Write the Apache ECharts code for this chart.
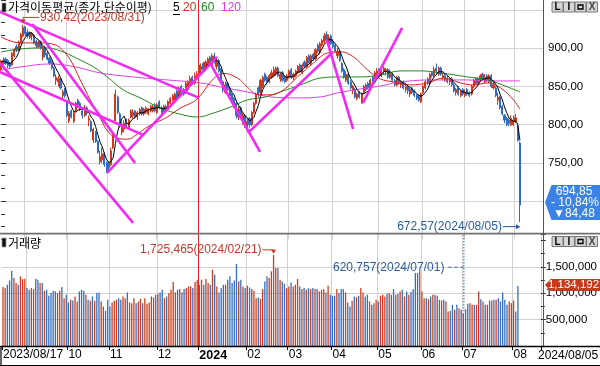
<!DOCTYPE html>
<html><head><meta charset="utf-8">
<script src="https://cdn.jsdelivr.net/npm/echarts@6/dist/echarts.min.js"></script>
<style>html,body{margin:0;padding:0;background:#fff}#c{width:600px;height:366px}</style>
</head><body><div id="c"></div>
<script>
// ---------- trading days (categories) ----------
const monthDays = [
 ['2023/08',[17,18,21,22,23,24,25,28,29,30,31]],
 ['2023/09',[1,4,5,6,7,8,11,12,13,14,15,18,19,20,21,22,25,26,27]],
 ['2023/10',[4,5,6,10,11,12,13,16,17,18,19,20,23,24,25,26,27,30,31]],
 ['2023/11',[1,2,3,6,7,8,9,10,13,14,15,16,17,20,21,22,23,24,27,28,29,30]],
 ['2023/12',[1,4,5,6,7,8,11,12,13,14,15,18,19,20,21,22,26,27,28]],
 ['2024/01',[2,3,4,5,8,9,10,11,12,15,16,17,18,19,22,23,24,25,26,29,30,31]],
 ['2024/02',[1,2,5,6,7,8,13,14,15,16,19,20,21,22,23,26,27,28,29]],
 ['2024/03',[4,5,6,7,8,11,12,13,14,15,18,19,20,21,22,25,26,27,28,29]],
 ['2024/04',[1,2,3,4,5,8,9,11,12,15,16,17,18,19,22,23,24,25,26,29,30]],
 ['2024/05',[2,3,7,8,9,10,13,14,16,17,20,21,22,23,24,27,28,29,30,31]],
 ['2024/06',[3,4,5,7,10,11,12,13,14,17,18,19,20,21,24,25,26,27,28]],
 ['2024/07',[1,2,3,4,5,8,9,10,11,12,15,16,17,18,19,22,23,24,25,26,29,30,31]],
 ['2024/08',[1,2,5]]
];
const monthLabels = ['2023/08/17','','10','11','12','2024','02','03','04','05','06','07','08'];
const padCount = 10;

// ---------- daily OHLC ----------
const opens = [
 872,879,886,884,880,878,890,902,897,908,916,
 928,921,914,916,917,909,902,909,888,901,893,887,881,874,858,856,860,838,846,
 830,805,818,804,818,832,828,818,812,822,806,804,780,790,778,752,754,762,750,
 750,748,770,805,836,814,790,794,806,796,810,812,818,810,814,822,814,816,814,818,818,826,
 816,830,822,816,824,820,828,832,834,844,836,850,846,842,846,852,862,854,860,
 864,872,880,872,880,888,878,890,876,884,872,856,842,854,848,840,834,828,810,822,806,812,
 796,808,800,816,828,848,842,850,866,862,856,862,864,866,874,860,868,862,858,
 862,872,862,864,868,878,868,882,876,890,880,892,886,904,894,904,908,918,906,916,
 908,904,890,896,880,872,858,866,856,844,846,834,842,828,842,852,854,846,862,858,866,
 872,864,870,870,872,862,866,858,852,862,852,856,846,850,840,848,844,838,838,830,
 842,848,860,854,868,864,874,866,874,862,864,856,856,860,852,842,848,838,846,
 838,846,842,840,850,860,854,858,866,856,864,856,864,848,848,832,836,824,812,808,806,800,800,
 804,798,776
];
const highs = [
 885,888,888,886,882,895,900,905,910,920,930.42,
 929,925,922,921,918,911,910,910,903,903,895,889,884,876,866,864,862,846,848,
 832,818,820,818,830,834,830,820,826,824,812,806,796,792,780,766,770,764,752,
 752,770,788,846,838,816,804,806,808,808,820,820,819,818,822,824,822,824,822,826,826,828,
 828,832,824,826,826,832,836,840,842,846,850,852,848,856,858,864,864,868,870,
 882,880,882,884,888,890,893,894,886,886,874,858,856,856,850,842,836,830,824,824,816,814,
 808,810,818,830,842,850,860,864,868,864,866,872,876,876,876,868,870,864,866,
 872,874,868,872,878,880,880,884,890,892,892,894,900,906,908,912,920,922,918,918,
 912,906,900,898,882,874,870,868,858,852,848,842,844,842,852,854,856,860,864,870,874,
 874,872,876,874,874,872,868,860,864,864,858,858,852,852,848,850,846,840,840,842,
 852,858,862,868,870,876,880,876,876,868,866,864,862,862,854,848,850,846,848,
 846,848,844,852,860,862,862,866,868,866,866,866,866,856,850,842,838,826,814,810,808,812,812,
 814,800,778
];
const lows = [
 870,876,878,874,873,877,888,895,896,906,914,
 916,913,912,910,905,900,899,898,884,888,884,878,872,862,852,850,846,834,835,
 810,802,808,802,816,822,818,808,810,812,798,790,776,776,762,748,750,745,737,
 738,746,768,805,814,796,786,790,795,794,808,808,808,806,812,812,812,814,812,816,816,816,
 814,820,814,814,816,818,826,830,832,834,834,840,838,840,844,850,852,852,858,
 862,866,870,870,878,878,876,880,872,868,856,842,840,844,836,828,822,808,806,808,800,796,
 791,796,798,814,826,836,840,848,856,852,854,860,862,864,862,856,856,854,856,
 860,860,858,862,866,868,866,874,874,880,878,884,884,894,892,902,906,908,904,904,
 900,894,886,882,868,860,856,852,846,840,834,832,834,828,840,844,846,844,852,856,864,
 862,862,866,864,860,860,856,850,850,852,848,846,842,840,836,840,836,832,830,828,
 840,846,852,852,862,862,866,864,864,858,856,854,852,850,842,838,838,836,838,
 836,838,836,838,848,852,852,856,858,854,856,854,848,846,836,826,820,812,802,798,798,798,798,
 802,778,672.57
];
const closes = [
 882,884,880,877,876,893,898,897,908,918,927,
 919,916,920,918,907,903,908,900,900,891,886,880,874,864,862,860,848,843,838,
 812,815,810,816,828,826,820,812,822,815,808,792,794,778,764,758,762,748,740,
 744,766,786,840,816,798,800,802,797,806,818,816,810,816,820,814,820,822,820,824,823,818,
 826,822,816,824,818,830,834,838,840,836,848,842,840,854,856,860,854,864,866,
 878,876,872,882,886,880,890,882,884,870,858,845,852,846,838,832,826,812,820,810,812,800,
 804,800,816,828,840,840,858,862,858,856,864,868,872,874,864,866,858,856,864,
 870,862,866,870,876,870,878,876,888,882,890,886,898,896,906,910,916,910,914,906,
 902,896,896,884,870,862,866,854,848,850,836,840,836,840,850,846,848,858,856,868,870,
 864,870,874,872,862,868,858,852,862,854,856,848,850,844,846,842,838,834,832,840,
 850,856,854,866,864,872,870,874,866,864,858,860,860,852,844,846,840,844,840,
 842,840,838,850,858,854,860,864,860,862,858,864,850,852,838,836,822,814,806,800,802,808,806,
 809,779.33,694.85
];
// volume in thousands of shares
const volumesK = [
 1115,1096,1160,1242,1426,1287,1191,1160,1318,1267,1275,
 1096,1065,1096,1077,1275,1255,1191,1191,1046,1065,951,1001,1046,1033,1001,1046,1115,906,970,
 824,875,862,938,843,1033,1065,1046,970,875,856,938,856,1001,1014,843,748,665,875,
 748,824,856,875,906,875,938,906,1014,824,811,906,811,843,894,811,906,798,824,938,919,970,
 989,1014,1065,906,938,1001,1065,1210,1014,1065,1077,1014,1077,1096,1128,1128,1096,1210,1255,
 1160,1255,1160,1267,1191,1160,1445,1350,1128,1014,1096,1160,1160,1255,1318,1191,1242,1553,1223,1255,1128,1096,
 1141,1109,1077,1046,906,919,894,1077,1223,1318,1287,1413,1725.465,1477,1477,1255,1223,1179,1096,
 1128,1204,1128,1160,1267,1128,1077,1096,1065,1096,1077,1096,1077,1077,1033,1065,1077,1014,1141,970,
 951,951,1077,1001,1077,1077,1014,824,748,856,938,925,951,1096,1014,938,970,843,779,811,875,
 843,951,970,938,989,1001,970,1077,970,982,1033,1065,938,1033,970,1020,1077,1382,1382,1413,
 1033,906,906,887,938,970,970,951,875,862,875,843,653,665,779,684,779,716,684,
 620.757,697,798,811,779,779,779,1033,887,843,779,779,862,862,875,875,906,843,1014,875,779,843,811,
 862,653,1134.192
];

// ---------- moving averages: [dayIndex, value] ----------
const ma20Pts = [[0,914.6],[8.7,906.9],[17.8,906.9],[24.7,904.3],[27.8,897.8],[31.5,884.7],[36,858.5],[40.6,832.3],[45.1,808.7],[48.8,790.3],[52.9,782.5],[57.4,781],[62,787.7],[66.5,796.9],[71,803.4],[75.6,810],[81.6,821.8],[87.5,830],[90.6,838],[96.6,860],[101.1,867],[107.5,861],[112,849.3],[116.6,839.5],[122.5,839],[128.4,845.4],[134.8,862.4],[142.1,880.7],[148.5,893.8],[154.4,895.2],[160.3,888.6],[166.7,871.6],[172.6,859.8],[178.5,855.9],[186.3,852],[194,854.6],[201.3,861],[209,854.6],[215,852],[221.3,854.6],[227.2,848],[233.1,832.3],[236,820]];
const ma60Pts = [[0,895],[8.7,899],[20,900.4],[27,896.5],[34,887.3],[42,875.5],[48.3,862.4],[55.6,845.4],[63.3,835],[72.4,821.8],[81.6,813.6],[89.3,810],[96.6,815.2],[104.3,823.1],[112,832.3],[120.2,836.3],[127,842.8],[136.2,852],[145.3,861],[154.4,862.4],[163.5,862.4],[172.6,865],[181.7,870.3],[190.8,870.3],[199.9,867.7],[212.2,862.4],[221.3,858.5],[230.4,849.3],[236,842.8]];
const ma120Pts = [[0,871.3],[9,875.5],[22.4,879.4],[33.8,875.5],[45,867.7],[60,862.4],[75.6,858.5],[90.6,854.6],[99.8,849.3],[112,842.8],[122.5,836.3],[134.8,835],[145.3,836.3],[153,841.5],[163.5,846.7],[172.6,850.6],[181.7,855.9],[196.7,858.5],[212.2,858.5],[221.3,857.2],[236,857.2]];

// ---------- drawn trend lines: [[dayIndex, price], [dayIndex, price]] ----------
const trendLines = [
 [[-0.5,947.4],[90.0,835.0]],
 [[14.1,931.7],[60.9,750.0]],
 [[-0.5,880.7],[60.0,671.6]],
 [[-0.5,868.9],[64.5,786.6]],
 [[48.2,736.9],[98.2,888.6]],
 [[95.0,880.7],[117.8,764.4]],
 [[112.3,789.2],[151.0,895.1]],
 [[148.2,910.8],[160.1,794.4]],
 [[164.6,828.4],[182.4,926.5]]
];

// ---------- build ----------
const dates = [], monthStarts = [];
monthDays.forEach(([ym, days]) => { monthStarts.push(dates.length); days.forEach(d => dates.push(ym + '/' + String(d).padStart(2,'0'))); });
const N = dates.length;
const cats = dates.concat(Array.from({length: padCount}, (_, k) => ' '.repeat(k + 1)));
const labelAt = {}; monthStarts.forEach((s, k) => { labelAt[s] = monthLabels[k]; });
const gridIdx = monthStarts.filter(i => i > 0);
const yearIdx = monthStarts[monthLabels.indexOf('2024')];

const UP = '#d0391c', DOWN = '#2e6dc2';
const GRIDC = '#d2d2d2';
const vColors = gridIdx.map(i => i === yearIdx ? '#e0261a' : GRIDC);

const candles = opens.map((o, i) => [o, closes[i], lows[i], highs[i]]);
const ma5 = closes.map((c, i) => { const s = closes.slice(Math.max(0, i - 4), i + 1); return [i, s.reduce((a, b) => a + b, 0) / s.length]; });
const volData = volumesK.map((v, i) => ({ value: v * 1000, itemStyle: { color: closes[i] >= opens[i] ? '#c9411e' : '#3470bf' } }));

const fmtP = v => v.toFixed(2).replace('.', ',');
const fmtV = v => String(Math.round(v)).replace(/\B(?=(\d{3})+(?!\d))/g, ',');
const FONT = '"Liberation Sans", "DejaVu Sans", sans-serif';

const lineSeries = (data, color, smooth, z, width) => ({
  type: 'line', xAxisIndex: 2, yAxisIndex: 0, data, showSymbol: false, symbol: 'none',
  smooth, lineStyle: { color, width: width || 1 }, z, silent: true
});

const option = {
  animation: false,
  backgroundColor: '#ffffff',
  grid: [
    { left: 0, top: 0, width: 543, height: 239.4 },
    { left: 0, top: 234, width: 543, height: 112 }
  ],
  xAxis: [
    { type: 'category', gridIndex: 0, data: cats, boundaryGap: true,
      axisLine: { show: false }, axisTick: { show: false }, axisLabel: { show: false },
      splitLine: { show: true, interval: (i) => gridIdx.includes(i), lineStyle: { color: vColors, width: 1 } } },
    { type: 'category', gridIndex: 1, data: cats, boundaryGap: true, position: 'bottom',
      axisLine: { show: false },
      axisTick: { show: true, interval: (i) => monthStarts.includes(i), length: 4, lineStyle: { color: '#000' } },
      axisLabel: { show: true, interval: (i) => !!labelAt[i], align: 'left', margin: 3,
        color: '#000', fontSize: 12, fontFamily: FONT,
        formatter: (v, i) => { const t = labelAt[i] || ''; return t === '2024' ? '{b|2024}' : t; },
        rich: { b: { fontWeight: 'bold', fontSize: 12.5, fontFamily: FONT, color: '#000' } } },
      splitLine: { show: true, interval: (i) => gridIdx.includes(i), lineStyle: { color: vColors, width: 1 } } },
    { type: 'value', gridIndex: 0, min: -0.5, max: cats.length - 0.5, show: false }
  ],
  yAxis: [
    { type: 'value', gridIndex: 0, position: 'right', min: 650, max: 963, interval: 50,
      axisLine: { show: false },
      axisTick: { show: true, length: 5, lineStyle: { color: '#333' } },
      minorTick: { show: true, splitNumber: 3, length: 4, lineStyle: { color: '#333' } },
      axisLabel: { margin: 5, color: '#000', fontSize: 11.5, fontFamily: FONT,
        formatter: v => (v >= 750 && v <= 900 && v % 50 === 0) ? fmtP(v) : '' },
      splitLine: { show: true, showMinLine: false, showMaxLine: false, lineStyle: { color: GRIDC } } },
    { type: 'value', gridIndex: 1, position: 'right', min: 0, max: 2120000, interval: 500000,
      axisLine: { show: false },
      axisTick: { show: true, length: 5, lineStyle: { color: '#333' } },
      minorTick: { show: true, splitNumber: 2, length: 4, lineStyle: { color: '#333' } },
      axisLabel: { margin: 5, color: '#000', fontSize: 11.5, fontFamily: FONT,
        formatter: v => (v > 0 && v <= 1500000 && v % 500000 === 0) ? fmtV(v) : '' },
      splitLine: { show: true, showMinLine: false, showMaxLine: false, lineStyle: { color: [GRIDC, GRIDC, GRIDC, 'rgba(0,0,0,0)'] } } }
  ],
  series: [
    { type: 'candlestick', xAxisIndex: 0, yAxisIndex: 0, data: candles, barWidth: 1.6, z: 2, silent: true,
      itemStyle: { color: UP, color0: DOWN, borderColor: UP, borderColor0: DOWN, borderWidth: 1 } },
    { type: 'bar', xAxisIndex: 1, yAxisIndex: 1, data: volData, barWidth: 1.3, z: 2, silent: true },
    lineSeries(ma120Pts, '#e040e0', 0.4, 3),
    lineSeries(ma60Pts, '#1f8a1f', 0.4, 3),
    lineSeries(ma20Pts, '#d42424', 0.4, 3),
    lineSeries(ma5, '#000000', false, 4),
    ...trendLines.map(seg => lineSeries(seg, '#f22af2', false, 6, 2.6))
  ]
};

const chart = echarts.init(document.getElementById('c'), null, { renderer: 'canvas', width: 600, height: 366 });
chart.setOption(option);

// ---------- annotations & frame ----------
const P = (i, v) => chart.convertToPixel({ xAxisIndex: 2, yAxisIndex: 0 }, [i, v]);
const Q = (i, v) => chart.convertToPixel({ xAxisIndex: 1, yAxisIndex: 1 }, [i, v]);
const txt = (x, y, text, fill, align, font, z) => ({ type: 'text', x, y, z: z || 50,
  style: { text, fill, font: font || ('12px ' + FONT), align: align || 'left', verticalAlign: 'middle', textAlign: align || 'left', textVerticalAlign: 'middle' } });
const ln = (x1, y1, x2, y2, stroke, w, dash, z) => ({ type: 'line', z: z || 50, shape: { x1, y1, x2, y2 }, style: { stroke, lineWidth: w || 1, lineDash: dash || null } });
const poly = (points, fill, z) => ({ type: 'polygon', z: z || 50, shape: { points }, style: { fill } });

const g = [];
// frame lines
g.push(ln(543.5, 0, 543.5, 346, '#555', 1));
g.push({ type: 'rect', z: 40, shape: { x: 0, y: 232.8, width: 600, height: 1.6 }, style: { fill: '#707070' } });
g.push(ln(0, 346.5, 600, 346.5, '#000', 1.5));
g.push(ln(0, 365.5, 600, 365.5, '#000', 1.2));
g.push(ln(1, 346, 1, 366, '#000', 1.2));

// titles
const KFONT = '12px "Noto Sans CJK KR", sans-serif';
g.push({ type: 'rect', z: 50, shape: { x: 2, y: 3, width: 4, height: 9 }, style: { fill: '#111', stroke: '#999', lineWidth: 0.8 } });
g.push(txt(8, 7.8, '가격이동평균(종가,단순이평)', '#000', 'left', KFONT));
g.push(txt(173, 7.8, '5', '#000'));
g.push(ln(173, 14.5, 180, 14.5, '#000', 1));
g.push(txt(183, 7.8, '20', '#e0281c'));
g.push(txt(201, 7.8, '60', '#1f8a1f'));
g.push(txt(221, 7.8, '120', '#d63ad6'));
g.push({ type: 'rect', z: 50, shape: { x: 2, y: 238, width: 4, height: 9 }, style: { fill: '#111', stroke: '#999', lineWidth: 0.8 } });
g.push(txt(8, 243, '거래량', '#000', 'left', KFONT));

// buttons
function buttons(y) {
  const labels = ['L', 'I', '', 'X'];
  for (let k = 0; k < 4; k++) {
    const x = 552 + k * 11.5;
    g.push({ type: 'rect', z: 100, shape: { x, y, width: 11, height: 10 }, style: { fill: '#d6d6d6', stroke: '#777', lineWidth: 1 } });
    if (k === 2) g.push({ type: 'rect', z: 101, shape: { x: x + 3, y: y + 3, width: 5, height: 4 }, style: { fill: 'none', stroke: '#000', lineWidth: 1.3 } });
    else g.push(txt(x + 5.5, y + 5.5, labels[k], k === 3 ? '#444' : '#000', 'center', 'bold 10px ' + FONT, 101));
  }
}
buttons(2); buttons(236.5);

// max / min price
const hiIdx = highs.indexOf(Math.max(...highs));
const loIdx = lows.indexOf(Math.min(...lows));
const hp = P(hiIdx, highs[hiIdx]);
const HC = '#c23a28';
g.push(ln(hp[0], hp[1] - 7.5, hp[0] + 16, hp[1] - 7.5, HC, 1));
g.push(ln(hp[0], hp[1] - 7.5, hp[0], hp[1] - 5, HC, 1));
g.push(poly([[hp[0] - 2.5, hp[1] - 5.5], [hp[0] + 2.5, hp[1] - 5.5], [hp[0], hp[1] - 1.5]], HC));
g.push(txt(hp[0] + 17, hp[1] - 7, fmtP(highs[hiIdx]) + '(' + dates[hiIdx] + ')', HC));
const lp = P(loIdx, lows[loIdx]);
const LC = '#2c5c9e';
g.push(ln(lp[0] - 17, lp[1] + 4.5, lp[0] - 2, lp[1] + 4.5, LC, 1));
g.push(poly([[lp[0] - 4, lp[1] + 2], [lp[0] - 4, lp[1] + 7], [lp[0] + 0.5, lp[1] + 4.5]], LC));
g.push(txt(lp[0] - 18, lp[1] + 4.5, fmtP(lows[loIdx]) + '(' + dates[loIdx] + ')', LC, 'right'));

// max / min volume
const vMaxIdx = volumesK.indexOf(Math.max(...volumesK));
const vMinIdx = volumesK.indexOf(Math.min(...volumesK));
const vp = Q(vMaxIdx, volumesK[vMaxIdx] * 1000);
g.push(ln(vp[0] - 11, vp[1] - 5, vp[0], vp[1] - 5, HC, 1));
g.push(poly([[vp[0] - 2.5, vp[1] - 5], [vp[0] + 2.5, vp[1] - 5], [vp[0], vp[1] - 1]], HC));
g.push(txt(vp[0] - 12, vp[1] - 5, fmtV(volumesK[vMaxIdx] * 1000) + '(' + dates[vMaxIdx] + ')', HC, 'right'));
const vq = Q(vMinIdx, volumesK[vMinIdx] * 1000);
g.push(ln(vq[0] - 15, vq[1] - 46, vq[0], vq[1] - 46, LC, 1, [3, 3]));
g.push(ln(vq[0] + 0.5, 235, vq[0] + 0.5, vq[1] - 2, LC, 1, [1.5, 1.5]));
g.push(txt(vq[0] - 19, vq[1] - 46, fmtV(volumesK[vMinIdx] * 1000) + '(' + dates[vMinIdx] + ')', LC, 'right'));

// current price tag
const last = closes[N - 1], prev = closes[N - 2];
const diff = last - prev, pct = diff / prev * 100;
const cy = P(N - 1, last)[1] - 2.5;
g.push(poly([[545, cy], [551.5, cy - 17.5], [600, cy - 17.5], [600, cy + 17.5], [551.5, cy + 17.5]], '#3a82e4', 100));
g.push(txt(574, cy - 10.5, fmtP(last), '#fff', 'center', '12px ' + FONT, 101));
g.push(txt(575, cy, (diff < 0 ? '- ' : '+ ') + fmtP(Math.abs(pct)) + '%', '#fff', 'center', '12px ' + FONT, 101));
g.push(txt(574, cy + 11, (diff < 0 ? '▼' : '▲') + fmtP(Math.abs(diff)), '#fff', 'center', '12px ' + FONT, 101));

// current volume tag
const lastV = volumesK[N - 1] * 1000;
const vy = Q(N - 1, lastV)[1] - 1;
g.push(poly([[545, vy], [550.5, vy - 6], [600, vy - 6], [600, vy + 6], [550.5, vy + 6]], '#c8391b', 100));
g.push(txt(573.5, vy, fmtV(lastV), '#fff', 'center', '11.5px ' + FONT, 101));

// last date label at bottom right
g.push(txt(538, 356, dates[N - 1], '#000'));

chart.setOption({ graphic: g });
</script></body></html>
